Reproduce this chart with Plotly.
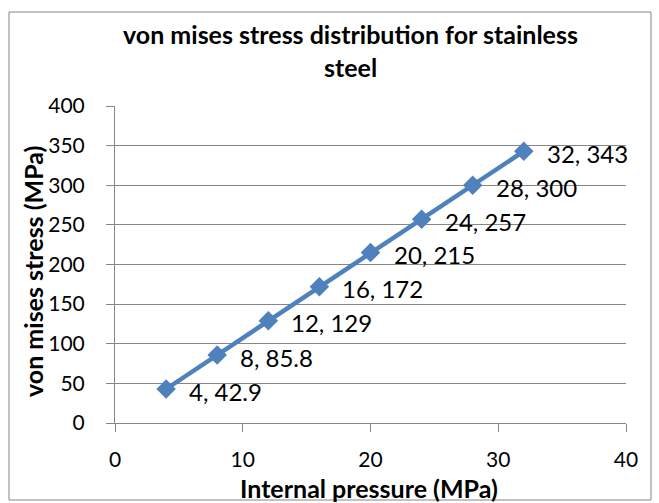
import plotly.graph_objects as go

pressure = [4, 8, 12, 16, 20, 24, 28, 32]
stress = [42.9, 85.8, 129, 172, 215, 257, 300, 343]
labels = [f"{p}, {s}" for p, s in zip(pressure, stress)]
x_ticks = [0, 10, 20, 30, 40]
y_ticks = [0, 50, 100, 150, 200, 250, 300, 350, 400]
title_lines = ["von mises stress distribution for stainless", "steel"]
x_title = "Internal pressure (MPa)"
y_title = "von mises stress (MPa)"

FONT = "Lato"
GRID = "#868686"
L, R, T, B = 115, 626, 106, 423  # plot area in px
PW, PH = R - L, B - T


def px_x(v):
    return (v - L) / PW


def px_y(v):
    return (B - v) / PH


fig = go.Figure()
fig.add_trace(go.Scatter(
    x=pressure, y=stress, mode="lines+markers",
    line=dict(color="#4F81BD", width=4.5),
    marker=dict(symbol="diamond", size=15, color="#4F81BD"),
    cliponaxis=False, showlegend=False,
))

annotations = []
for px, sy, lab in zip(pressure, stress, labels):
    annotations.append(dict(
        x=px, y=sy, xref="x", yref="y", text=lab, showarrow=False,
        xanchor="left", yanchor="middle", xshift=21, yshift=-2,
        font=dict(family=FONT, size=24, color="black")))

for line, ypx in zip(title_lines, [34, 67]):
    annotations.append(dict(
        x=px_x(350), y=px_y(ypx), xref="paper", yref="paper",
        text=f"<b>{line}</b>", showarrow=False, xanchor="center", yanchor="middle",
        font=dict(family=FONT, size=25, color="black")))

annotations.append(dict(
    x=px_x(369), y=px_y(488), xref="paper", yref="paper",
    text=f"<b>{x_title}</b>", showarrow=False, xanchor="center", yanchor="middle",
    font=dict(family=FONT, size=25, color="black")))
annotations.append(dict(
    x=px_x(33), y=px_y(272), xref="paper", yref="paper", textangle=-90,
    text=f"<b>{y_title}</b>", showarrow=False, xanchor="center", yanchor="middle",
    font=dict(family=FONT, size=25, color="black")))

fig.update_layout(
    width=659, height=503,
    margin=dict(l=L, r=659 - R, t=T, b=503 - B),
    paper_bgcolor="white", plot_bgcolor="white",
    annotations=annotations,
    xaxis=dict(range=[0, 40], tickvals=x_ticks, showgrid=False, automargin=False,
               showline=True, linecolor=GRID, linewidth=1,
               ticks="outside", ticklen=8, tickcolor=GRID,
               ticklabelstandoff=10,
               tickfont=dict(family=FONT, size=21, color="black"),
               zeroline=False),
    yaxis=dict(range=[0, 400], tickvals=y_ticks, automargin=False,
               showgrid=True, gridcolor=GRID, gridwidth=1,
               showline=True, linecolor=GRID, linewidth=1,
               ticks="outside", ticklen=8, tickcolor=GRID,
               ticklabelstandoff=17,
               tickfont=dict(family=FONT, size=21, color="black"),
               zeroline=False),
    shapes=[dict(type="rect", xref="paper", yref="paper",
                 x0=px_x(9), x1=px_x(651), y0=px_y(500), y1=px_y(12),
                 line=dict(color=GRID, width=1), layer="below")],
)

fig.write_html("out.html", config={"displayModeBar": False},
               post_script="document.body.style.margin='0';")
